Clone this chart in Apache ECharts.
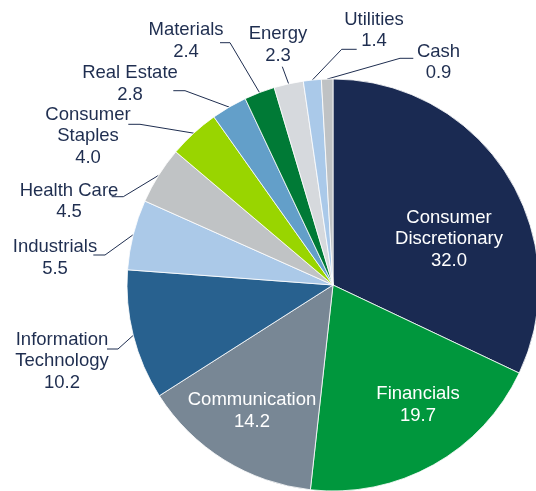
<!DOCTYPE html>
<html><head><meta charset="utf-8">
<script src="https://cdn.jsdelivr.net/npm/echarts@6/dist/echarts.min.js"></script>
<style>html,body{margin:0;padding:0;background:#fff}#c{width:536px;height:491px}</style>
</head><body><div id="c"></div>
<script>
// Sectors, clockwise from 12 o'clock
const categories = ['Consumer\nDiscretionary', 'Financials', 'Communication', 'Information\nTechnology', 'Industrials', 'Health Care', 'Consumer\nStaples', 'Real Estate', 'Materials', 'Energy', 'Utilities', 'Cash'];
const values = [32.0, 19.7, 14.2, 10.2, 5.5, 4.5, 4.0, 2.8, 2.4, 2.3, 1.4, 0.9];

// Styles
const colors = ['#1a2a52', '#00973d', '#788795', '#28618f', '#abc9e8', '#c0c3c5', '#99d500', '#639fc9', '#007a36', '#d6d9dd', '#aac9e9', '#bfc2c4'];
const insideLabel = [true, true, true, false, false, false, false, false, false, false, false, false];

// Label text-block centres and leader-line geometry (label placement only)
const labelCenters = [[449, 239], [418, 405], [252, 411], [62, 361], [55, 258], [69, 201.5], [88, 136.3], [130, 84], [186, 41], [278, 45], [374, 30.3], [438.5, 62.5]];
const leaderElbows = [null, null, null, [118, 349], [105, 255], [123.3, 196.7], [140, 124.3], [185, 90.7], [230, 42.7], [282.3, 66.7], [341.7, 49.3], [400, 58.3]];
const leaderEnds = [null, null, null, [107, 349], [93.3, 255], [111.7, 196.7], [128.3, 124.3], [173.3, 90.7], [220, 42.7], [282.3, 66.7], [356.7, 49.3], [413.3, 58.3]];

const textColor = '#1f2e50';
const data = categories.map((name, i) => ({
  name: name,
  value: values[i],
  itemStyle: { color: colors[i] },
  label: insideLabel[i] ? { position: 'inside', color: '#ffffff' } : { position: 'outside', color: textColor },
  labelLine: { show: !insideLabel[i] }
}));

const chart = echarts.init(document.getElementById('c'), null, { renderer: 'canvas' });
chart.setOption({
  animation: false,
  backgroundColor: '#ffffff',
  series: [{
    type: 'pie',
    center: [333, 285],
    radius: 206,
    startAngle: 90,
    clockwise: true,
    avoidLabelOverlap: false,
    itemStyle: { borderColor: '#ffffff', borderWidth: 0.8 },
    label: {
      show: true,
      fontFamily: 'Liberation Sans, Arial, sans-serif',
      fontSize: 18.5,
      lineHeight: 21.5,
      align: 'center',
      formatter: p => p.name + '\n' + p.value.toFixed(1)
    },
    labelLine: { show: true, length: 10, length2: 10, lineStyle: { color: textColor, width: 1 } },
    labelLayout: function (p) {
      const i = p.dataIndex;
      const c = labelCenters[i];
      const res = { x: c[0], y: c[1], align: 'center', verticalAlign: 'middle', hideOverlap: false, moveOverlap: false };
      if (!insideLabel[i] && p.labelLinePoints) {
        const edge = p.labelLinePoints[0];
        res.labelLinePoints = [[edge[0], edge[1]], leaderElbows[i], leaderEnds[i]];
      }
      return res;
    },
    data: data
  }]
});
</script>
</body></html>
